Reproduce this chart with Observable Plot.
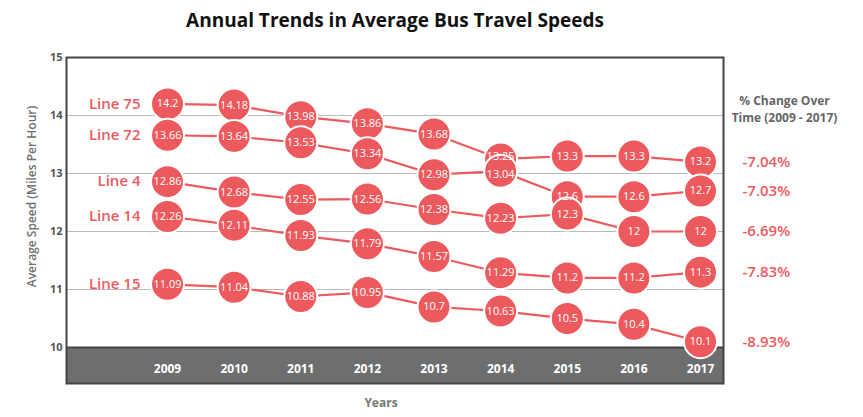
<!DOCTYPE html>
<html>
<head>
<meta charset="utf-8">
<script src="https://cdn.jsdelivr.net/npm/d3@7"></script>
<script src="https://cdn.jsdelivr.net/npm/@observablehq/plot@0.6"></script>
<style>
  body { margin: 0; background: #fff; }
  svg { font-family: "Open Sans", sans-serif; }
</style>
</head>
<body>
<div id="chart"></div>
<script>
const years = [2009, 2010, 2011, 2012, 2013, 2014, 2015, 2016, 2017];
const lineNames = ["Line 75", "Line 72", "Line 4", "Line 14", "Line 15"];
const line75 = [14.2, 14.18, 13.98, 13.86, 13.68, 13.25, 13.3, 13.3, 13.2];
const line72 = [13.66, 13.64, 13.53, 13.34, 12.98, 13.04, 12.6, 12.6, 12.7];
const line4 = [12.86, 12.68, 12.55, 12.56, 12.38, 12.23, 12.3, 12, 12];
const line14 = [12.26, 12.11, 11.93, 11.79, 11.57, 11.29, 11.2, 11.2, 11.3];
const line15 = [11.09, 11.04, 10.88, 10.95, 10.7, 10.63, 10.5, 10.4, 10.1];
const pctChange = ["-7.04%", "-7.03%", "-6.69%", "-7.83%", "-8.93%"];
const yTicks = [10, 11, 12, 13, 14, 15];
const gridTicks = [11, 12, 13, 14];
const titleText = "Annual Trends in Average Bus Travel Speeds";
const yLabel = "Average Speed (Miles Per Hour)";
const xLabel = "Years";
const pctHeader = ["% Change Over", "Time (2009 - 2017)"];

const series = [line75, line72, line4, line14, line15];
const rows = series.flatMap((vals, i) => vals.map((v, j) => ({line: lineNames[i], year: years[j], value: v})));
const firsts = series.map((vals, i) => ({line: lineNames[i], year: years[0], value: vals[0]}));
const lasts = series.map((vals, i) => ({line: lineNames[i], year: years[years.length - 1], value: vals[vals.length - 1], pct: pctChange[i]}));

// simple label dodge: value labels of near-coincident points in one year are pushed apart
const near = 0.25;
rows.forEach(r => {
  r.nudge = 0;
  rows.forEach(o => {
    if (o !== r && o.year === r.year && Math.abs(o.value - r.value) < near) r.nudge = o.value < r.value ? -1 : 1;
  });
});

const xDomain = [2007.484, 2017.345];
const yDomain = [9.38, 15];
const red = "#ec5a5d";
const valueText = {x: "year", y: "value", text: d => String(d.value), fill: "white", fontSize: 11};

const chart = Plot.plot({
  width: 863,
  height: 417,
  marginLeft: 66,
  marginRight: 140,
  marginTop: 57,
  marginBottom: 34,
  style: {fontFamily: "Open Sans, sans-serif", background: "white"},
  x: {domain: xDomain},
  y: {domain: yDomain},
  marks: [
    Plot.rect([0], {x1: xDomain[0], x2: xDomain[1], y1: yDomain[0], y2: 10, fill: "#6d6e70"}),
    Plot.ruleY(gridTicks, {stroke: "#b8b8b8", strokeWidth: 1}),
    Plot.ruleY([10], {stroke: "#444", strokeWidth: 2}),
    Plot.frame({stroke: "#444", strokeWidth: 2}),
    Plot.axisY(yTicks, {tickSize: 0, tickPadding: 4, tickFormat: "d", fill: "#555", fontWeight: "bold", fontSize: 11, label: null}),
    Plot.axisX(years, {tickSize: 0, tickFormat: "d", fill: "white", fontWeight: "bold", fontSize: 12, dy: -28, label: null}),
    Plot.line(rows, {x: "year", y: "value", z: "line", stroke: red, strokeWidth: 2.2}),
    Plot.dot(rows, {x: "year", y: "value", r: 16.5, fill: red, stroke: "white", strokeWidth: 2}),
    Plot.text(rows.filter(d => d.nudge === 0), valueText),
    Plot.text(rows.filter(d => d.nudge === -1), {...valueText, dy: -3}),
    Plot.text(rows.filter(d => d.nudge === 1), {...valueText, dy: 3}),
    Plot.text(firsts, {x: "year", y: "value", text: "line", textAnchor: "end", dx: -27, fill: red, fontSize: 15, fontWeight: 600}),
    Plot.text(lasts, {x: "year", y: "value", text: "pct", textAnchor: "start", dx: 42, fill: red, fontSize: 15, fontWeight: 600}),
    Plot.text([pctHeader[0]], {frameAnchor: "top-right", dx: 61, dy: 44, textAnchor: "middle", lineAnchor: "middle", fill: "#666", fontWeight: "bold", fontSize: 12}),
    Plot.text([pctHeader[1]], {frameAnchor: "top-right", dx: 61, dy: 61, textAnchor: "middle", lineAnchor: "middle", fill: "#666", fontWeight: "bold", fontSize: 12}),
    Plot.text([titleText], {frameAnchor: "top", dy: -37, lineAnchor: "middle", fill: "#111", fontWeight: "bold", fontSize: 19}),
    Plot.text([yLabel], {frameAnchor: "left", dx: -34, dy: -24, rotate: -90, textAnchor: "middle", lineAnchor: "middle", fill: "#707070", fontWeight: 600, fontSize: 12}),
    Plot.text([xLabel], {frameAnchor: "bottom", dx: -14, dy: 20, lineAnchor: "middle", fill: "#777", fontWeight: "bold", fontSize: 12})
  ]
});
document.getElementById("chart").append(chart);
</script>
</body>
</html>
